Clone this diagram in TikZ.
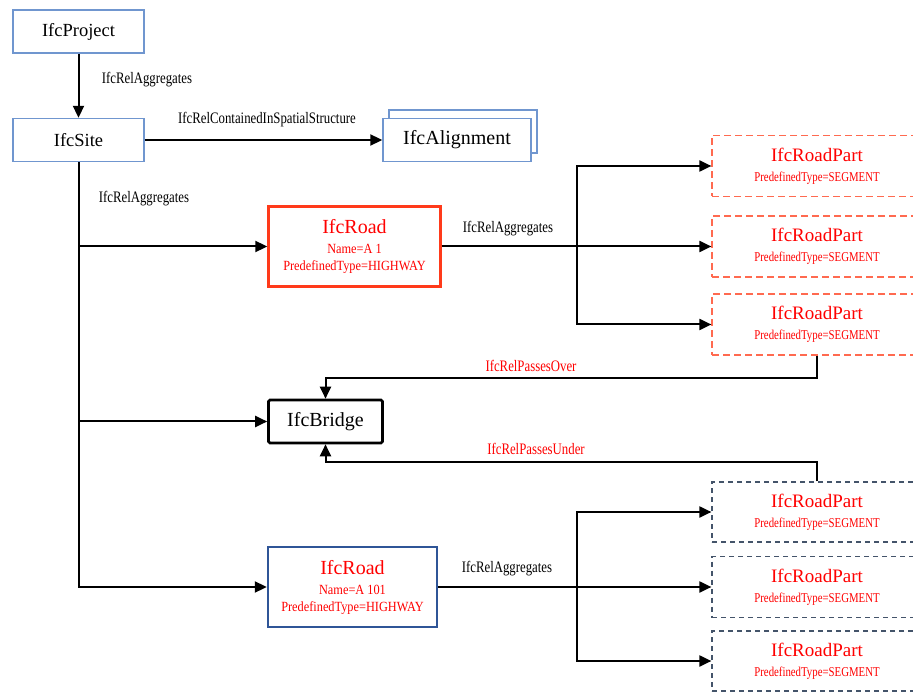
\documentclass[tikz,border=0pt]{standalone}
\usepackage{fontspec}
\setmainfont{Liberation Serif}
\newfontfamily\serifbig{Liberation Serif}
\newfontfamily\condfont[FakeStretch=0.8]{Liberation Serif}
\newfontfamily\semicond[FakeStretch=0.88]{Liberation Serif}
\usetikzlibrary{arrows.meta}
\definecolor{siteblue}{HTML}{7096CF}
\definecolor{roadred}{HTML}{FF3A1A}
\definecolor{partred}{HTML}{FF6A50}
\definecolor{navy}{HTML}{2F5597}
\definecolor{slate}{HTML}{44546A}
\definecolor{labelred}{HTML}{FF0000}
\begin{document}
\begin{tikzpicture}[x=1pt,y=-1pt,
  every node/.style={inner sep=0pt},
  ifcbox/.style={draw=siteblue, line width=1.4pt, fill=white, minimum width=131pt,
    minimum height=43pt, font=\serifbig\fontsize{18.5}{20}\selectfont},
  bigbox/.style={ifcbox, minimum width=148pt, font=\serifbig\fontsize{20}{22}\selectfont},
  roadbox/.style={line width=2.4pt, fill=white, minimum width=172pt, minimum height=80pt,
    text=labelred, align=center, font=\semicond\fontsize{14}{17}\selectfont},
  partbox/.style={line width=1.2pt, minimum width=210pt, minimum height=61pt,
    text=labelred, align=center, font=\condfont\fontsize{13.5}{20}\selectfont},
  redpart/.style={partbox, draw=partred, dash pattern=on 7pt off 4pt},
  bluepart/.style={partbox, draw=slate, dash pattern=on 5pt off 4pt},
  conn/.style={line width=2pt, black},
  arr/.style={conn, -{Triangle[length=12pt,width=11pt]}},
  rel/.style={font=\condfont\fontsize{16}{18}\selectfont},
  redrel/.style={rel, text=labelred}]
\useasboundingbox (0,0) rectangle (913,692);
\clip (0,0) rectangle (913,692);

% spatial structure
\node[ifcbox] (proj) at (78.5,31.5) {IfcProject};
\node[ifcbox] (site) at (78.5,140) {IfcSite};
\node[bigbox] (alignback) at (463,131.5) {};
\node[bigbox] (align) at (457,140) {IfcAlignment};

% roads and bridge
\node[roadbox, draw=roadred] (road1) at (354.5,246.5)
  {{\serifbig\fontsize{20}{20}\selectfont IfcRoad}\\[3pt]Name=A 1\\PredefinedType=HIGHWAY};
\node[draw, line width=2.6pt, rounded corners=1.5pt, minimum width=114pt, minimum height=43pt,
  font=\serifbig\fontsize{20}{22}\selectfont] (bridge) at (325.5,421.5) {IfcBridge};
\node[roadbox, draw=navy, minimum width=169pt] (road2) at (352.5,587)
  {{\serifbig\fontsize{20}{20}\selectfont IfcRoad}\\[3pt]Name=A 101\\PredefinedType=HIGHWAY};

% road parts
\newcommand{\partlabel}{{\serifbig\fontsize{19}{19}\selectfont IfcRoadPart}\\PredefinedType=SEGMENT}
\node[redpart] (rp1) at (817,166) {\partlabel};
\node[redpart] (rp2) at (817,246.5) {\partlabel};
\node[redpart] (rp3) at (817,324.5) {\partlabel};
\node[bluepart, minimum height=60pt] (rp4) at (817,512) {\partlabel};
\node[bluepart] (rp5) at (817,587) {\partlabel};
\node[bluepart, minimum height=60pt] (rp6) at (817,661) {\partlabel};

% relationship labels
\node[rel] (l1) at (147,80) {IfcRelAggregates};
\node[rel] (l2) at (267,120) {IfcRelContainedInSpatialStructure};
\node[rel] (l3) at (144,199) {IfcRelAggregates};
\node[rel] (l4) at (508,229) {IfcRelAggregates};
\node[rel] (l5) at (507,569) {IfcRelAggregates};
\node[redrel] (l6) at (531,366) {IfcRelPassesOver};
\node[redrel] (l7) at (536,449) {IfcRelPassesUnder};

% connectors
\coordinate (bus) at (577,0);
\draw[arr] (proj.south) -- (site.north);
\draw[arr] (site.east) -- (align.west);
\draw[arr] (site.south) |- (road2.west);
\draw[arr] (site.south |- road1.west) -- (road1.west);
\draw[arr] (site.south |- bridge.west) -- (bridge.west);

\draw[arr] (road1.east) -- (rp2.west);
\draw[arr] (bus |- rp2.west) |- (rp1.west);
\draw[arr] (bus |- rp2.west) |- (rp3.west);

\draw[arr] (road2.east) -- (rp5.west);
\draw[arr] (bus |- rp5.west) |- (rp4.west);
\draw[arr] (bus |- rp5.west) |- (rp6.west);

\draw[arr] (rp3.south) -- ++(0,22) -| (bridge.north);
\draw[arr] (rp4.north) -- ++(0,-19) -| (bridge.south);
\end{tikzpicture}
\end{document}
